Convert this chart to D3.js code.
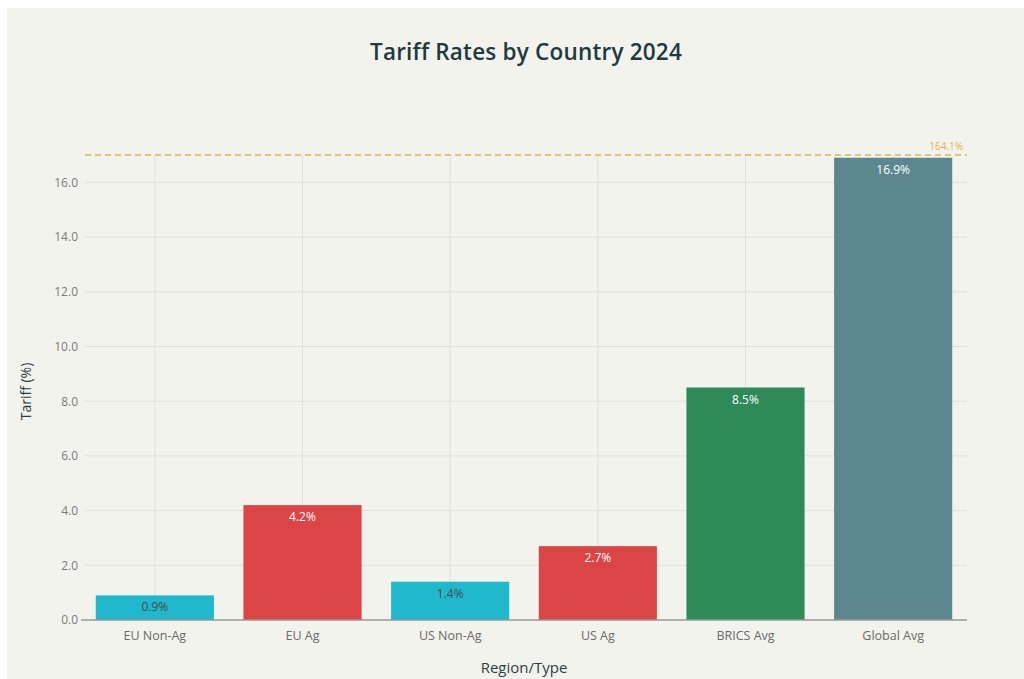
<!DOCTYPE html>
<html><head><meta charset="utf-8">
<script src="https://cdn.jsdelivr.net/npm/d3@7"></script>
<style>
html,body{margin:0;padding:0;background:#fff;}
svg{display:block;}
</style></head>
<body>
<svg id="chart" width="1024" height="679"></svg>
<script>
const categories = ["EU Non-Ag", "EU Ag", "US Non-Ag", "US Ag", "BRICS Avg", "Global Avg"];
const values = [0.9, 4.2, 1.4, 2.7, 8.5, 16.9];
const barColors = ["#1FB8CD", "#DB4545", "#1FB8CD", "#DB4545", "#2E8B57", "#5D878F"];
const labelColors = ["#4A4A4A", "#fff", "#4A4A4A", "#fff", "#fff", "#fff"];
const yTicks = [0, 2, 4, 6, 8, 10, 12, 14, 16];
const refValue = 17.0;
const refLabel = "164.1%";

const svg = d3.select("#chart");
svg.append("rect").attr("x", 7).attr("y", 8).attr("width", 1017).attr("height", 671).attr("fill", "#F3F3EE");

const margin = {left: 81, right: 57, top: 155, bottom: 59};
const W = 1024, H = 679;
const x = d3.scaleBand().domain(categories).range([margin.left, W - margin.right]).paddingInner(0.2).paddingOuter(0.1);
const y = d3.scaleLinear().domain([0, refValue]).range([H - margin.bottom, margin.top]);

const font = "'Open Sans', 'Liberation Sans', Arial, sans-serif";

// gridlines
svg.append("g").selectAll("line").data(yTicks).join("line")
  .attr("x1", margin.left + 4).attr("x2", W - margin.right)
  .attr("y1", d => y(d)).attr("y2", d => y(d))
  .attr("stroke", "#E0E0DC").attr("stroke-width", 1);
svg.append("g").selectAll("line").data(categories).join("line")
  .attr("x1", d => x(d) + x.bandwidth() / 2).attr("x2", d => x(d) + x.bandwidth() / 2)
  .attr("y1", y(refValue)).attr("y2", y(0))
  .attr("stroke", "#E0E0DC").attr("stroke-width", 1);

// y axis
const yAxis = svg.append("g").attr("transform", `translate(${margin.left},0)`)
  .call(d3.axisLeft(y).tickValues(yTicks).tickFormat(d3.format(".1f")).tickSize(0).tickPadding(3));
yAxis.select(".domain").remove();
yAxis.selectAll("text").attr("font-family", font).attr("font-size", 12).attr("fill", "#7A7A7A");

// bars
svg.append("g").selectAll("rect").data(values).join("rect")
  .attr("x", (d, i) => x(categories[i])).attr("width", x.bandwidth())
  .attr("y", d => y(d)).attr("height", d => y(0) - y(d))
  .attr("fill", (d, i) => barColors[i]);

// bar labels
svg.append("g").selectAll("text").data(values).join("text")
  .attr("x", (d, i) => x(categories[i]) + x.bandwidth() / 2)
  .attr("y", d => y(d) + 16)
  .attr("text-anchor", "middle")
  .attr("font-family", font).attr("font-size", 12)
  .attr("fill", (d, i) => labelColors[i])
  .text(d => d3.format(".1f")(d) + "%");

// x axis
const xAxis = svg.append("g").attr("transform", `translate(0,${y(0)})`)
  .call(d3.axisBottom(x).tickSize(0).tickPadding(11));
xAxis.select(".domain").attr("d", `M${margin.left},0H${W - margin.right}`).attr("stroke", "#9A9A96").attr("stroke-width", 1.5);
xAxis.selectAll("text").attr("font-family", font).attr("font-size", 12.5).attr("fill", "#6A6A6A");

// reference line
svg.append("line")
  .attr("x1", margin.left + 4).attr("x2", W - margin.right)
  .attr("y1", y(refValue)).attr("y2", y(refValue))
  .attr("stroke", "#D2BA4C").attr("stroke-width", 1.5).attr("stroke-dasharray", "6,4");
svg.append("text")
  .attr("x", W - margin.right - 4).attr("y", y(refValue) - 5)
  .attr("text-anchor", "end")
  .attr("font-family", font).attr("font-size", 10).attr("fill", "#D2BA4C")
  .text(refLabel);

// title
svg.append("text").attr("x", 526).attr("y", 60).attr("text-anchor", "middle")
  .attr("font-family", font).attr("font-size", 22.5).attr("font-weight", 600).attr("fill", "#1F3A3F")
  .attr("letter-spacing", 0.2)
  .text("Tariff Rates by Country 2024");

// axis titles
svg.append("text").attr("x", 524).attr("y", 673).attr("text-anchor", "middle")
  .attr("font-family", font).attr("font-size", 15).attr("fill", "#2A3F44")
  .text("Region/Type");
svg.append("text").attr("transform", `translate(31,${(y(0) + y(refValue)) / 2 + 4}) rotate(-90)`)
  .attr("text-anchor", "middle")
  .attr("font-family", font).attr("font-size", 14).attr("fill", "#2A3F44")
  .text("Tariff (%)");
</script>
</body></html>
